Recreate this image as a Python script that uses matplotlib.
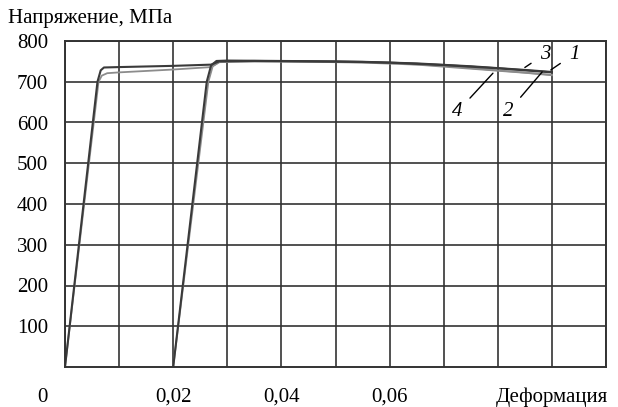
import numpy as np
import matplotlib.pyplot as plt

plt.rcParams['font.family'] = ['Liberation Serif', 'DejaVu Serif']

# curves 3 and 4 start at zero strain, curves 1 and 2 start at 0.02
strain_3 = [0, 0.0060, 0.0066, 0.0072, 0.0100, 0.0200, 0.0270, 0.0285, 0.0350, 0.0450, 0.0550, 0.0650, 0.0750, 0.0850, 0.0900]
stress_3 = [0, 700, 728, 735, 736, 739, 742, 750, 751, 750, 749, 745, 738, 729, 724]
strain_4 = [0, 0.0062, 0.0068, 0.0078, 0.0100, 0.0200, 0.0270, 0.0285, 0.0350, 0.0450, 0.0550, 0.0650, 0.0750, 0.0850, 0.0900]
stress_4 = [0, 700, 715, 721, 723, 730, 736, 748, 750, 749, 747, 742, 732, 722, 716]
strain_1 = [0.02, 0.0262, 0.0270, 0.0280, 0.0300, 0.0400, 0.0500, 0.0600, 0.0700, 0.0800, 0.0900]
stress_1 = [0, 700, 740, 751, 752, 751, 750, 747, 741, 733, 723]
strain_2 = [0.02, 0.0265, 0.0273, 0.0285, 0.0300, 0.0400, 0.0500, 0.0600, 0.0700, 0.0800, 0.0900]
stress_2 = [0, 700, 738, 748, 750, 750, 749, 746, 739, 728, 717]

x_ticks = [0.02, 0.04, 0.06]
x_labels = ['0,02', '0,04', '0,06']
y_ticks = [100, 200, 300, 400, 500, 600, 700, 800]

dark = '#3a3a3a'
light = '#8c8c8c'

fig = plt.figure(figsize=(6.18, 4.07), dpi=100)
ax = fig.add_axes([65/618, 40/407, 541/618, 326/407])

ax.plot(strain_4, stress_4, color=light, lw=1.3)
ax.plot(strain_2, stress_2, color=light, lw=1.3)
ax.plot(strain_3, stress_3, color=dark, lw=1.5)
ax.plot(strain_1, stress_1, color=dark, lw=1.5)

ax.set_xlim(0, 0.1)
ax.set_ylim(0, 800)
ax.set_xticks(np.arange(0, 0.1001, 0.01), minor=True)
ax.set_xticks(x_ticks)
ax.set_xticklabels(x_labels)
ax.set_yticks(y_ticks)
ax.grid(True, which='both', color='#333333', lw=1.2)
ax.tick_params(which='both', length=0, labelsize=15)
ax.tick_params(axis='x', pad=15)
ax.tick_params(axis='y', pad=12)
for s in ax.spines.values():
    s.set_color('#333333')
    s.set_linewidth(1.4)

ax.annotate('0', xy=(0, 0), xycoords='axes fraction', xytext=(-23, -30),
            textcoords='offset pixels', ha='center', va='center', fontsize=15)
ax.annotate('Деформация', xy=(1, 0), xycoords='axes fraction', xytext=(2, -30),
            textcoords='offset pixels', ha='right', va='center', fontsize=15)
fig.text(8/618, 1 - 18/407, 'Напряжение, МПа', ha='left', va='center', fontsize=15)

labels = [('3', (0.0850, 735), (0.0887, 768)),
          ('1', (0.0898, 729), (0.0941, 768)),
          ('4', (0.0791, 721), (0.0725, 626)),
          ('2', (0.0882, 724), (0.0819, 626))]
for name, tip, pos in labels:
    ax.annotate(name, xy=tip, xytext=pos, ha='center', va='center', fontsize=15,
                style='italic', arrowprops=dict(arrowstyle='-', color='black', lw=1,
                                                shrinkA=5, shrinkB=0))

fig.savefig('out.png', dpi=100)
